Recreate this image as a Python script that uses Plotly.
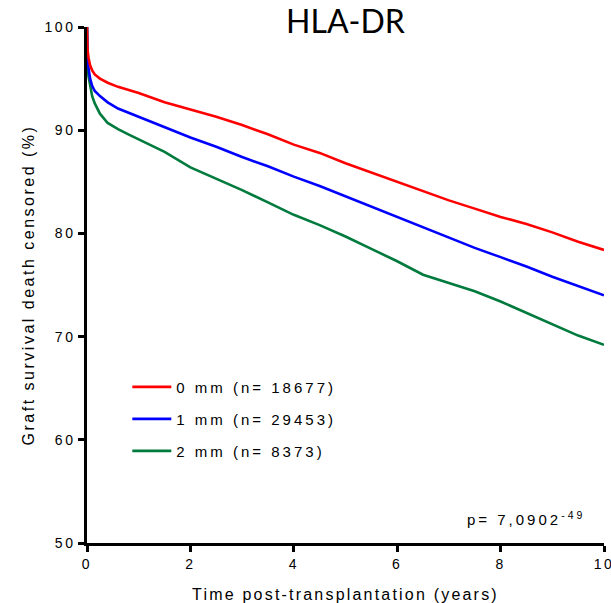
import plotly.graph_objects as go

years = [0, 0.01, 0.03, 0.06, 0.1, 0.15, 0.25, 0.4, 0.6, 0.8, 1, 1.5, 2, 2.5, 3, 3.5,
         4, 4.5, 5, 5.5, 6, 6.5, 7, 7.5, 8, 8.5, 9, 9.5, 10]
mm0 = [100, 97.8, 97.0, 96.3, 95.8, 95.4, 95.0, 94.6, 94.2, 93.9, 93.6, 92.7, 92.0, 91.3,
       90.5, 89.6, 88.6, 87.8, 86.8, 85.9, 85.0, 84.1, 83.2, 82.4, 81.6, 80.9, 80.1, 79.2, 78.4]
mm1 = [100, 97.0, 96.0, 95.0, 94.3, 93.8, 93.3, 92.7, 92.1, 91.7, 91.3, 90.3, 89.3, 88.4,
       87.4, 86.5, 85.5, 84.6, 83.6, 82.6, 81.6, 80.6, 79.6, 78.6, 77.7, 76.8, 75.8, 74.9, 74.0]
mm2 = [100, 96.2, 95.2, 94.2, 93.3, 92.6, 91.6, 90.7, 90.1, 89.6, 89.1, 87.9, 86.4, 85.3,
       84.2, 83.0, 81.8, 80.8, 79.7, 78.5, 77.3, 76.0, 75.2, 74.4, 73.4, 72.3, 71.2, 70.1, 69.2]
names = ["0 mm (n= 18677)", "1 mm (n= 29453)", "2 mm (n= 8373)"]
colors = ["#ff0000", "#0000ff", "#007a3d"]
x_ticks = [0, 2, 4, 6, 8, 10]
y_ticks = [50, 60, 70, 80, 90, 100]
title = "HLA-DR"
p_text = "p= 7,0902<sup>-49</sup>"

font = "Liberation Sans, Arial, sans-serif"
fig = go.Figure()
series = [mm0, mm1, mm2]
# draw green, blue, red so red ends on top; legend keeps 0,1,2 order
for i in [2, 1, 0]:
    fig.add_trace(go.Scatter(x=years, y=series[i], mode="lines", name=names[i],
                             line=dict(color=colors[i], width=2.6),
                             legendgroup=str(i), legendrank=i + 1))

fig.update_layout(
    width=611, height=603,
    margin=dict(l=87, r=7, t=27, b=60),
    plot_bgcolor="white", paper_bgcolor="white",
    title=dict(text=title, x=(87 + 604) / 2 / 611, xanchor="center", y=1 - 22 / 603,
               yanchor="middle",
               font=dict(family="Lato, Open Sans, sans-serif", size=32, color="black")),
    showlegend=True,
    legend=dict(x=0.078, y=0.334, xanchor="left", yanchor="top",
                font=dict(family=font, size=15, color="black"),
                traceorder="grouped", tracegroupgap=9.5, itemwidth=39,
                bgcolor="rgba(0,0,0,0)"),
    xaxis=dict(range=[0, 10], tickvals=x_ticks, ticks="outside", ticklen=6, tickwidth=2.5,
               tickcolor="black", showline=True, linecolor="black", linewidth=2.5,
               showgrid=False, zeroline=False, ticklabeloverflow="allow", automargin=False,
               tickfont=dict(family=font, size=14, color="black"),
               title=dict(text="Time post-transplantation (years)", standoff=20,
                          font=dict(family=font, size=16, color="black"))),
    yaxis=dict(range=[50, 100], tickvals=y_ticks, ticks="outside", ticklen=6, tickwidth=2.5,
               tickcolor="black", showline=True, linecolor="black", linewidth=2.5,
               showgrid=False, zeroline=False, automargin=False,
               tickfont=dict(family=font, size=14, color="black"),
               title=dict(text="Graft survival death censored (%)", standoff=14,
                          font=dict(family=font, size=16, color="black"))),
)
fig.add_annotation(x=(569 - 87) / 517, y=(543 - 518) / 516, xref="paper", yref="paper",
                   text=p_text, showarrow=False, xanchor="right", yanchor="middle",
                   font=dict(family=font, size=15, color="black"))

css = ("<style>.xtitle{letter-spacing:2.2px}.ytitle{letter-spacing:2.5px}"
       ".legendtext{letter-spacing:3px}"
       ".legend .scrollbox{clip-path:none !important}"
       ".xtick text,.ytick text{letter-spacing:2.5px}"
       ".annotation-text{letter-spacing:3px}</style>")
post = "document.head.insertAdjacentHTML('beforeend', '" + css + "');"
fig.write_html("out.html", post_script=post)
